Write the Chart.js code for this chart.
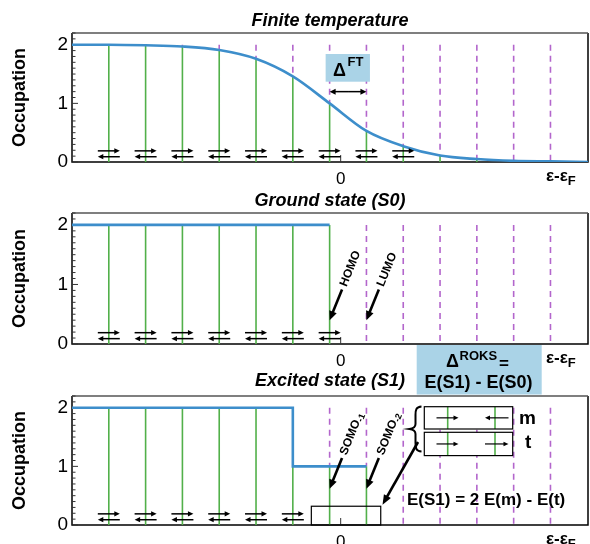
<!DOCTYPE html>
<html>
<head>
<meta charset="utf-8">
<title>Occupation</title>
<script src="https://cdn.jsdelivr.net/npm/chart.js@4.4.1/dist/chart.umd.min.js"></script>
<style>
  html, body { margin: 0; padding: 0; background: #fff; }
  body { width: 590px; height: 544px; position: relative; overflow: hidden; }
  canvas { position: absolute; left: 0; }
</style>
</head>
<body>
<canvas id="ft" width="590" height="230" style="top:0px"></canvas>
<canvas id="s0" width="590" height="230" style="top:180px"></canvas>
<canvas id="s1" width="590" height="230" style="top:363px"></canvas>
<script>
// level energies, eps - eps_F in units of the level spacing
const levels = [-6.3, -5.3, -4.3, -3.3, -2.3, -1.3, -0.3, 0.7, 1.7, 2.7, 3.7, 4.7, 5.7];
const xRange = [-7.3, 6.72];
const yRange = [0, 2.2];
const xTicks = [0];
const yTicks = [0, 1, 2];

// occupation of each level
const occFT = [2.00, 1.99, 1.97, 1.91, 1.76, 1.46, 1.00, 0.53, 0.27, 0.11, 0.05, 0.02, 0.01];
const occS0 = [2, 2, 2, 2, 2, 2, 2, 0, 0, 0, 0, 0, 0];
const occS1 = [2, 2, 2, 2, 2, 2, 1, 1, 0, 0, 0, 0, 0];

// number of levels that carry the spin-pair arrows
const pairsFT = 9;
const pairsS0 = 7;
const pairsS1 = 6;

const BLUE = '#3d8ecb', GREEN = '#52b04a', PURPLE = '#b366cc', BOX = '#aad3e7';
const FONT = "'Liberation Sans', Arial, Helvetica, sans-serif";
Chart.defaults.font.family = FONT;
Chart.defaults.color = '#000';

// blue occupation curve: smooth for finite T, a step function otherwise
function curvePoints(occ, smooth) {
    var pts = [{ x: xRange[0], y: occ[0] }];
    levels.forEach(function (x, i) {
        if (smooth || occ[i] > 0) pts.push({ x: x, y: occ[i] });
    });
    if (smooth) pts.push({ x: xRange[1], y: 0 });
    return pts;
}
// green: occupied part of every level
function stickPoints(occ) {
    var pts = [];
    levels.forEach(function (x, i) {
        if (occ[i] > 0) pts.push({ x: x, y: 0 }, { x: x, y: occ[i] }, { x: x, y: NaN });
    });
    return pts;
}
// purple dashed: empty part of every level
function holePoints(occ) {
    var pts = [];
    levels.forEach(function (x, i) {
        if (occ[i] < 2) pts.push({ x: x, y: 2 }, { x: x, y: occ[i] }, { x: x, y: NaN });
    });
    return pts;
}

function arrow(ctx, x1, y1, x2, y2, lw, hl, hw) {
    var a = Math.atan2(y2 - y1, x2 - x1), c = Math.cos(a), s = Math.sin(a);
    ctx.lineWidth = lw;
    ctx.beginPath();
    ctx.moveTo(x1, y1);
    ctx.lineTo(x2 - c * hl * 0.7, y2 - s * hl * 0.7);
    ctx.stroke();
    ctx.beginPath();
    ctx.moveTo(x2, y2);
    ctx.lineTo(x2 - hl * c + hw * s, y2 - hl * s - hw * c);
    ctx.lineTo(x2 - hl * c - hw * s, y2 - hl * s + hw * c);
    ctx.closePath();
    ctx.fill();
}

function spinPairs(chart, n) {
    var ctx = chart.ctx, x = chart.scales.x, y = chart.scales.y;
    for (var i = 0; i < n; i++) {
        var c = x.getPixelForValue(levels[i]);
        arrow(ctx, c - 11, y.getPixelForValue(0.19), c + 11, y.getPixelForValue(0.19), 1.5, 5.5, 2.6);
        arrow(ctx, c + 11, y.getPixelForValue(0.09), c - 11, y.getPixelForValue(0.09), 1.5, 5.5, 2.6);
    }
}

// rotated label made of [text, size, shift] parts
function slanted(ctx, x, y, parts) {
    ctx.save();
    ctx.translate(x, y);
    ctx.rotate(-68 * Math.PI / 180);
    ctx.textAlign = 'left';
    ctx.textBaseline = 'middle';
    var cx = 0;
    parts.forEach(function (p) {
        ctx.font = 'bold ' + p[1] + 'px ' + FONT;
        ctx.fillText(p[0], cx, p[2]);
        cx += ctx.measureText(p[0]).width;
    });
    ctx.restore();
}

function levelArrow(chart, i, yv, parts) {
    var ctx = chart.ctx;
    var hx = chart.scales.x.getPixelForValue(levels[i]), hy = chart.scales.y.getPixelForValue(yv);
    var tx = hx + 12.4, ty = hy - 30.7;
    arrow(ctx, tx, ty, hx, hy, 2.6, 9, 4);
    slanted(ctx, tx + 1.5, ty - 3.5, parts);
}

const frame = {
    id: 'frame',
    beforeDatasetsDraw: function (chart) {
        var ctx = chart.ctx, a = chart.chartArea, x = chart.scales.x, y = chart.scales.y;
        ctx.save();
        ctx.lineWidth = 1.5;
        ctx.strokeStyle = '#000';
        ctx.beginPath();
        ctx.moveTo(a.left, a.top);
        ctx.lineTo(a.left, a.bottom);
        ctx.lineTo(a.right, a.bottom);
        ctx.lineTo(a.right, a.top);
        ctx.stroke();
        ctx.strokeStyle = '#555';
        ctx.beginPath();
        ctx.moveTo(a.left, a.top);
        ctx.lineTo(a.right, a.top);
        ctx.stroke();
        // inward ticks on the occupation axis
        ctx.lineWidth = 1;
        ctx.strokeStyle = '#333';
        for (var k = 0; k <= 22; k++) {
            var py = y.getPixelForValue(k / 10);
            ctx.beginPath();
            ctx.moveTo(a.left, py);
            ctx.lineTo(a.left + (k % 10 === 0 ? 6 : 3.5), py);
            ctx.stroke();
        }
        xTicks.forEach(function (v) {
            var px = x.getPixelForValue(v);
            ctx.beginPath();
            ctx.moveTo(px, a.bottom);
            ctx.lineTo(px, a.bottom - 7);
            ctx.stroke();
        });
        ctx.restore();
    },
    afterDraw: function (chart, args, opts) {
        var ctx = chart.ctx, a = chart.chartArea;
        ctx.save();
        ctx.fillStyle = '#000';
        ctx.textAlign = 'center';
        ctx.textBaseline = 'alphabetic';
        ctx.font = 'bold italic 18px ' + FONT;
        ctx.fillText(opts.title, (a.left + a.right) / 2, opts.titleY);
        // axis name
        ctx.save();
        ctx.translate(20, (a.top + a.bottom) / 2);
        ctx.rotate(-Math.PI / 2);
        ctx.textBaseline = 'middle';
        ctx.font = 'bold 18px ' + FONT;
        ctx.fillText('Occupation', 0, 0);
        ctx.restore();
        // eps - eps_F
        ctx.textAlign = 'left';
        ctx.font = 'bold 17px ' + FONT;
        ctx.fillText('ε-ε', 546, a.bottom + 19);
        var w = ctx.measureText('ε-ε').width;
        ctx.font = 'bold 13px ' + FONT;
        ctx.fillText('F', 546 + w, a.bottom + 23);
        ctx.restore();
    }
};

function makePanel(id, occ, smooth, top, bottom, title, titleY, notes) {
    return new Chart(document.getElementById(id), {
        type: 'scatter',
        data: {
            datasets: [{
                data: curvePoints(occ, smooth),
                showLine: true,
                borderColor: BLUE,
                borderWidth: 2.6,
                pointRadius: 0,
                cubicInterpolationMode: 'monotone',
                stepped: smooth ? false : 'after'
            }, {
                data: stickPoints(occ),
                showLine: true,
                borderColor: GREEN,
                borderWidth: 1.6,
                pointRadius: 0
            }, {
                data: holePoints(occ),
                showLine: true,
                borderColor: PURPLE,
                borderWidth: 1.6,
                borderDash: [6, 5],
                pointRadius: 0
            }]
        },
        options: {
            responsive: false,
            animation: false,
            events: [],
            layout: { padding: { top: top, left: 0, right: 2, bottom: 0 } },
            plugins: {
                legend: { display: false },
                tooltip: { enabled: false },
                frame: { title: title, titleY: titleY }
            },
            scales: {
                x: {
                    type: 'linear',
                    min: xRange[0],
                    max: xRange[1],
                    afterBuildTicks: function (s) { s.ticks = xTicks.map(function (v) { return { value: v }; }); },
                    afterFit: function (s) { s.height = 230 - bottom; },
                    grid: { display: false, drawTicks: false },
                    border: { display: false },
                    ticks: { font: { size: 17 }, color: '#000', padding: 7, maxRotation: 0 }
                },
                y: {
                    min: yRange[0],
                    max: yRange[1],
                    afterBuildTicks: function (s) { s.ticks = yTicks.map(function (v) { return { value: v }; }); },
                    afterFit: function (s) { s.width = 72; },
                    grid: { display: false, drawTicks: false },
                    border: { display: false },
                    ticks: { font: { size: 19 }, color: '#000', padding: 4 }
                }
            }
        },
        plugins: [frame, { id: 'notes', afterDatasetsDraw: notes }]
    });
}

// Finite temperature
makePanel('ft', occFT, true, 33, 162, 'Finite temperature', 25.5, function (chart) {
    var ctx = chart.ctx, x = chart.scales.x, y = chart.scales.y;
    var l6 = x.getPixelForValue(levels[6]), l7 = x.getPixelForValue(levels[7]);
    ctx.save();
    ctx.fillStyle = BOX;
    ctx.fillRect(l6 - 4, 54, l7 - l6 + 7.5, 27.7);
    ctx.fillStyle = '#000';
    ctx.strokeStyle = '#000';
    ctx.font = 'bold 18px ' + FONT;
    ctx.fillText('Δ', 333, 75.5);
    ctx.font = 'bold 13px ' + FONT;
    ctx.fillText('FT', 347.5, 66);
    var ay = y.getPixelForValue(1.2);
    arrow(ctx, (l6 + l7) / 2, ay, l7, ay, 1.5, 6, 3);
    arrow(ctx, (l6 + l7) / 2, ay, l6, ay, 1.5, 6, 3);
    spinPairs(chart, pairsFT);
    ctx.restore();
});

// Ground state
makePanel('s0', occS0, false, 33, 164, 'Ground state (S0)', 26, function (chart) {
    var ctx = chart.ctx;
    ctx.save();
    ctx.fillStyle = '#000';
    ctx.strokeStyle = '#000';
    spinPairs(chart, pairsS0);
    levelArrow(chart, 6, 0.4, [['HOMO', 12, 0]]);
    levelArrow(chart, 7, 0.4, [['LUMO', 12, 0]]);
    // box with the ROKS gap definition
    ctx.fillStyle = BOX;
    ctx.fillRect(416.7, 165, 125, 49.5);
    ctx.fillStyle = '#000';
    ctx.textAlign = 'left';
    ctx.font = 'bold 18px ' + FONT;
    ctx.fillText('Δ', 446, 187);
    ctx.font = 'bold 13px ' + FONT;
    ctx.fillText('ROKS', 459.5, 180);
    ctx.font = 'bold 17px ' + FONT;
    ctx.fillText('=', 499, 189);
    ctx.textAlign = 'center';
    ctx.font = 'bold 18px ' + FONT;
    ctx.fillText('E(S1) - E(S0)', 478.5, 208);
    ctx.restore();
});

// Excited state
makePanel('s1', occS1, false, 33, 162, 'Excited state (S1)', 22.5, function (chart) {
    var ctx = chart.ctx, x = chart.scales.x, y = chart.scales.y;
    var l6 = x.getPixelForValue(levels[6]), l7 = x.getPixelForValue(levels[7]);
    ctx.save();
    ctx.fillStyle = '#000';
    ctx.strokeStyle = '#000';
    spinPairs(chart, pairsS1);
    levelArrow(chart, 6, 0.62, [['SOMO', 12, 0], ['-1', 9, 3]]);
    levelArrow(chart, 7, 0.62, [['SOMO', 12, 0], ['-2', 9, 3]]);
    // open-shell pair box on the axis
    ctx.lineWidth = 1.2;
    var by = y.getPixelForValue(0.32);
    ctx.strokeRect(l6 - 18.3, by, l7 - l6 + 32.6, y.getPixelForValue(0) - by);
    // m and t determinants
    var boxes = [[43.7, 22.3, -1], [69.3, 23.3, 1]];
    boxes.forEach(function (b) {
        ctx.fillStyle = '#fff';
        ctx.fillRect(424.3, b[0], 88.4, b[1]);
        ctx.strokeStyle = GREEN;
        ctx.lineWidth = 1.6;
        [447.7, 495].forEach(function (gx) {
            ctx.beginPath();
            ctx.moveTo(gx, b[0]);
            ctx.lineTo(gx, b[0] + b[1]);
            ctx.stroke();
        });
        ctx.strokeStyle = '#000';
        ctx.lineWidth = 1.2;
        ctx.strokeRect(424.3, b[0], 88.4, b[1]);
        ctx.fillStyle = '#000';
        var cy = b[0] + b[1] / 2;
        arrow(ctx, 436.5, cy, 458.5, cy, 1.2, 5, 2.3);
        if (b[2] < 0) arrow(ctx, 508.5, cy, 485, cy, 1.2, 5, 2.3);
        else arrow(ctx, 485, cy, 508.5, cy, 1.2, 5, 2.3);
    });
    ctx.font = 'bold 19px ' + FONT;
    ctx.textAlign = 'left';
    ctx.fillText('m', 519, 60.5);
    ctx.fillText('t', 525, 84.5);
    // brace joining m and t
    ctx.lineWidth = 2;
    ctx.beginPath();
    ctx.moveTo(421.5, 43.5);
    ctx.bezierCurveTo(416, 44, 415.5, 47, 415.5, 52);
    ctx.lineTo(415.5, 61);
    ctx.bezierCurveTo(415.5, 64, 413, 65.5, 409.5, 66);
    ctx.bezierCurveTo(413, 66.5, 415.5, 68, 415.5, 71);
    ctx.lineTo(415.5, 80);
    ctx.bezierCurveTo(415.5, 85, 416, 88, 421.5, 88.5);
    ctx.stroke();
    arrow(ctx, 418, 79, 382.5, 141.8, 2.6, 10, 4);
    ctx.font = 'bold 17px ' + FONT;
    ctx.fillText('E(S1) = 2 E(m) - E(t)', 407, 141.5);
    ctx.restore();
});
</script>
</body>
</html>
